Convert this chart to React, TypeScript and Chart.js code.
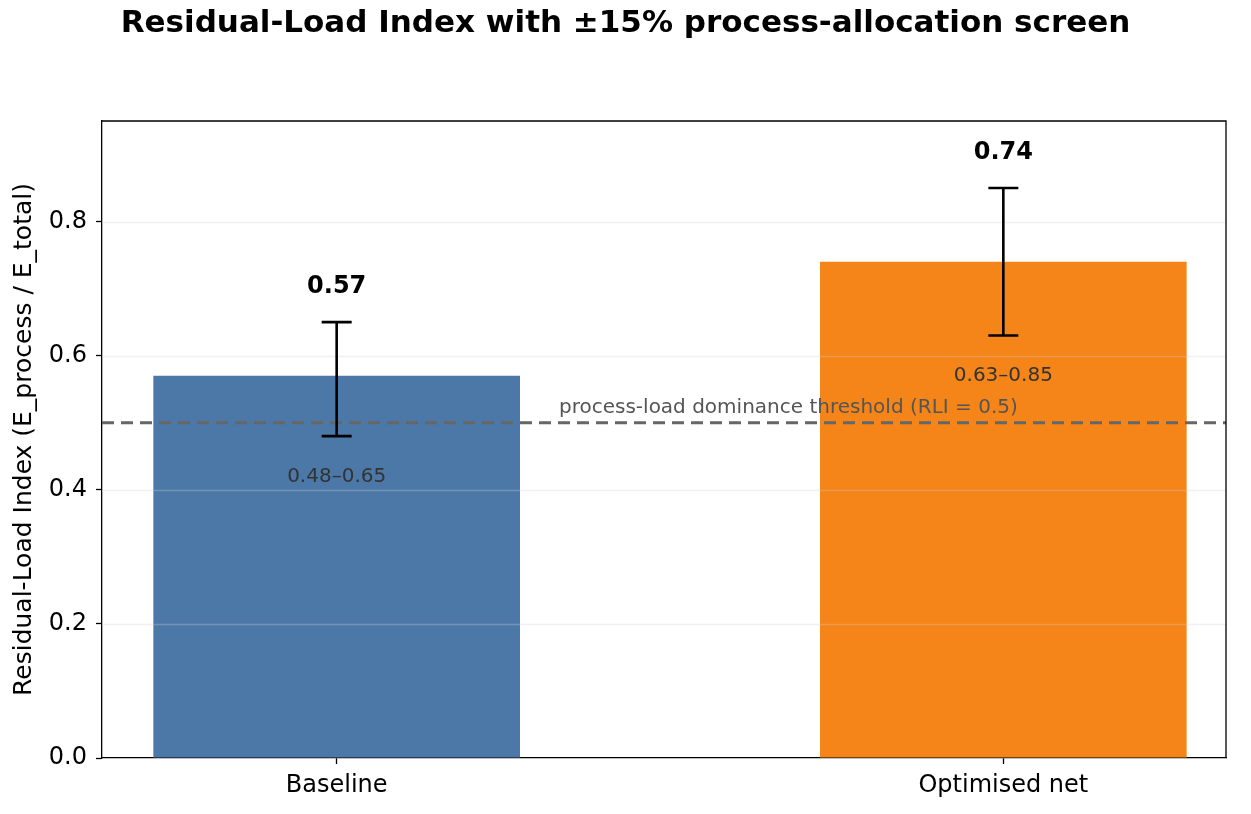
import React, { useEffect, useRef } from "react";
import { Chart, registerables } from "chart.js";

Chart.register(...registerables);

const categories = ["Baseline", "Optimised net"];
const rliValues = [0.57, 0.74];
const rangeLow = [0.48, 0.63];
const rangeHigh = [0.65, 0.85];
const barColors = ["#4C78A8", "#F58518"];
const yTicks = [0, 0.2, 0.4, 0.6, 0.8];
const threshold = 0.5;
const thresholdLabel = "process-load dominance threshold (RLI = 0.5)";
const chartTitle = "Residual-Load Index with \u00b115% process-allocation screen";
const yTitle = "Residual-Load Index (E_process / E_total)";

const FONT = "'DejaVu Sans', sans-serif";

const overlayPlugin = {
  id: "overlay",
  afterDatasetsDraw(chart: any) {
    const { ctx, chartArea: a, scales } = chart;
    const xs = scales.x;
    const ys = scales.y;
    ctx.save();
    // grid lines (drawn over bars, faint)
    ctx.strokeStyle = "rgba(210,210,210,0.3)";
    ctx.lineWidth = 1.5;
    yTicks.forEach((v) => {
      if (v === 0) return;
      const py = Math.round(ys.getPixelForValue(v)) + 0.5;
      ctx.beginPath();
      ctx.moveTo(a.left, py);
      ctx.lineTo(a.right, py);
      ctx.stroke();
    });
    // threshold line
    const ty = ys.getPixelForValue(threshold);
    ctx.strokeStyle = "#666666";
    ctx.lineWidth = 3;
    ctx.setLineDash([12, 7]);
    ctx.beginPath();
    ctx.moveTo(a.left, ty);
    ctx.lineTo(a.right, ty);
    ctx.stroke();
    ctx.setLineDash([]);
    // threshold label
    ctx.font = `20px ${FONT}`;
    ctx.fillStyle = "#555555";
    ctx.textAlign = "left";
    ctx.textBaseline = "bottom";
    ctx.fillText(thresholdLabel, xs.getPixelForValue(0.3335), ys.getPixelForValue(threshold + 0.007));
    // error bars and labels
    rliValues.forEach((v, i) => {
      const cx = xs.getPixelForValue(i);
      const yLo = ys.getPixelForValue(rangeLow[i]);
      const yHi = ys.getPixelForValue(rangeHigh[i]);
      ctx.strokeStyle = "#000";
      ctx.lineWidth = 2.6;
      ctx.beginPath();
      ctx.moveTo(cx, yLo);
      ctx.lineTo(cx, yHi);
      ctx.moveTo(cx - 15, yLo);
      ctx.lineTo(cx + 15, yLo);
      ctx.moveTo(cx - 15, yHi);
      ctx.lineTo(cx + 15, yHi);
      ctx.stroke();
      ctx.fillStyle = "#000";
      ctx.font = `bold 24px ${FONT}`;
      ctx.textAlign = "center";
      ctx.textBaseline = "bottom";
      ctx.fillText(v.toFixed(2), cx, ys.getPixelForValue(rangeHigh[i] + 0.035));
      ctx.fillStyle = "#333333";
      ctx.font = `20px ${FONT}`;
      ctx.textBaseline = "top";
      ctx.fillText(
        `${rangeLow[i].toFixed(2)}\u2013${rangeHigh[i].toFixed(2)}`,
        cx,
        ys.getPixelForValue(rangeLow[i] - 0.045)
      );
    });
    // frame top / right
    ctx.strokeStyle = "#000";
    ctx.lineWidth = 1.3;
    ctx.beginPath();
    ctx.moveTo(a.left, a.top);
    ctx.lineTo(a.right, a.top);
    ctx.lineTo(a.right, a.bottom);
    ctx.stroke();
    ctx.restore();
  },
};

export default function App() {
  const ref = useRef<HTMLCanvasElement | null>(null);
  useEffect(() => {
    document.body.style.margin = "0";
    const canvas = ref.current;
    if (!canvas) return;
    const chart = new Chart(canvas, {
      type: "bar",
      data: {
        datasets: [
          {
            data: rliValues.map((v, i) => ({ x: i, y: v })),
            backgroundColor: barColors,
            borderWidth: 0,
            barPercentage: 0.55,
            categoryPercentage: 1,
          },
        ],
      },
      options: {
        responsive: false,
        animation: false,
        layout: { padding: { left: 25, right: 25, top: 0, bottom: 0 } },
        plugins: {
          legend: { display: false },
          tooltip: { enabled: false },
          title: {
            display: true,
            text: chartTitle,
            color: "#000",
            font: { family: FONT, size: 31, weight: "bold" },
            padding: { top: 5, bottom: 78.8 },
          },
        },
        scales: {
          x: {
            type: "linear",
            min: -0.352,
            max: 1.334,
            offset: false,
            afterBuildTicks: (s: any) => {
              s.ticks = categories.map((_, i) => ({ value: i }));
            },
            ticks: {
              autoSkip: false,
              maxRotation: 0,
              color: "#000",
              font: { family: FONT, size: 24 },
              padding: 7,
              callback: (v: any) => categories[v as number] ?? "",
            },
            grid: { drawOnChartArea: false, offset: false, tickLength: 6, tickColor: "#000", tickWidth: 1.3 },
            border: { color: "#000", width: 1.3 },
            afterFit: (s: any) => {
              s.height = 56;
            },
          },
          y: {
            type: "linear",
            min: 0,
            max: 0.95,
            afterBuildTicks: (s: any) => {
              s.ticks = yTicks.map((v) => ({ value: v }));
            },
            ticks: {
              color: "#000",
              font: { family: FONT, size: 24 },
              padding: 9,
              callback: (v: any) => Number(v).toFixed(1),
            },
            grid: { drawOnChartArea: false, tickLength: 6, tickColor: "#000", tickWidth: 1.3 },
            border: { color: "#000", width: 1.3 },
            title: {
              display: true,
              text: yTitle,
              color: "#000",
              font: { family: FONT, size: 25 },
              padding: { top: -16, bottom: 0 },
            },
            afterFit: (s: any) => {
              s.width = 77;
            },
          },
        },
      } as any,
      plugins: [overlayPlugin],
    });
    return () => chart.destroy();
  }, []);
  return (
    <div style={{ width: 1251, height: 814 }}>
      <canvas ref={ref} width={1251} height={814} style={{ display: "block" }} />
    </div>
  );
}
